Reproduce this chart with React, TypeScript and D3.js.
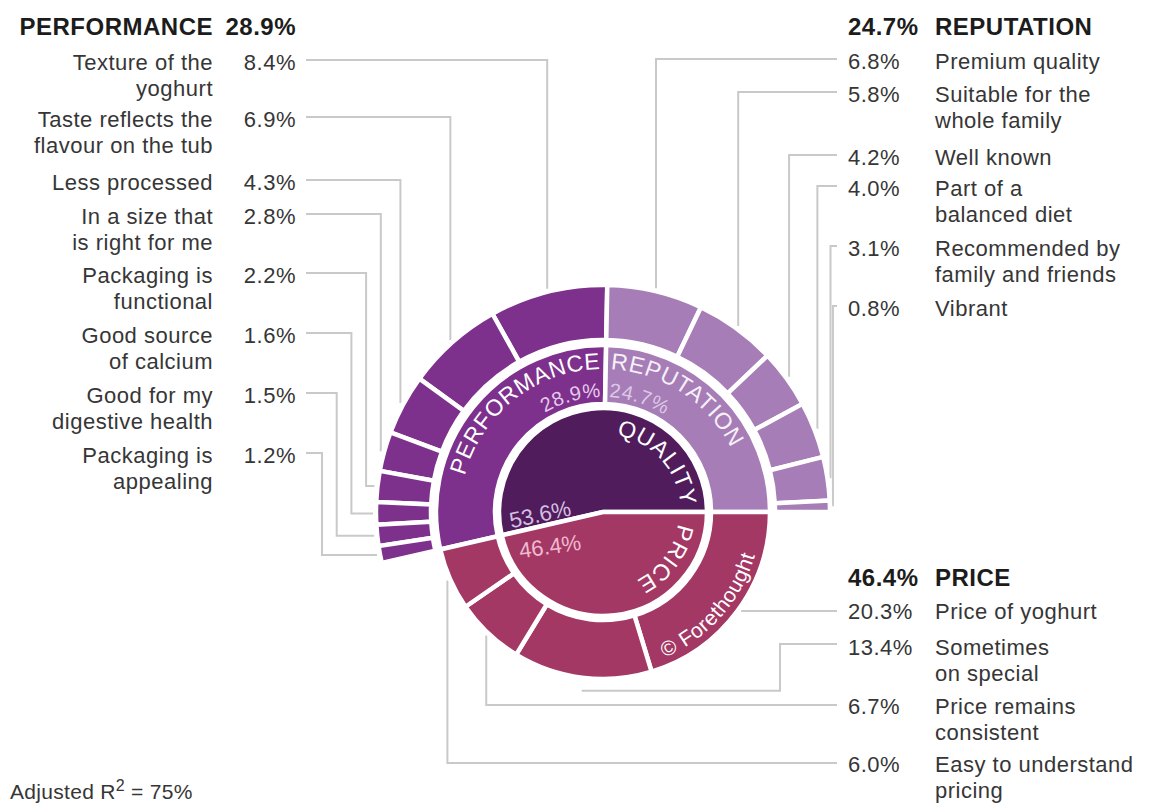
import * as d3 from 'd3';
import React from 'react';

// ---- data ----
const groupNames = ['QUALITY', 'PRICE'];
const groupValues = [53.6, 46.4];

const qualityNames = ['PERFORMANCE', 'REPUTATION'];
const qualityValues = [28.9, 24.7];

const performanceLabels = [
  'Texture of the\nyoghurt',
  'Taste reflects the\nflavour on the tub',
  'Less processed',
  'In a size that\nis right for me',
  'Packaging is\nfunctional',
  'Good source\nof calcium',
  'Good for my\ndigestive health',
  'Packaging is\nappealing',
];
const performanceValues = [8.4, 6.9, 4.3, 2.8, 2.2, 1.6, 1.5, 1.2];

const reputationLabels = [
  'Premium quality',
  'Suitable for the\nwhole family',
  'Well known',
  'Part of a\nbalanced diet',
  'Recommended by\nfamily and friends',
  'Vibrant',
];
const reputationValues = [6.8, 5.8, 4.2, 4.0, 3.1, 0.8];

const priceLabels = [
  'Price of yoghurt',
  'Sometimes\non special',
  'Price remains\nconsistent',
  'Easy to understand\npricing',
];
const priceValues = [20.3, 13.4, 6.7, 6.0];

const adjustedR2 = 75;

// ---- layout ----
const W = 1161;
const H = 806;
const CX = 603;
const CY = 512;
const R1 = 104;
const R2I = 108;
const R2O = 167;
const R3I = 172;
const R3O = 227;
const LINE = 26;

const leftY = [62, 119, 182, 216, 275, 335, 395, 455];
const rightY = [61, 94, 157, 188, 248, 308];
const priceY = [611, 647, 706, 764];
const priceRoute = ['direct', 'under', 'up', 'up'];

const COLORS = {
  quality: '#501c5c',
  performance: '#7d308c',
  reputation: '#a67db6',
  price: '#a33864',
  line: '#c9c9c9',
  text: '#363636',
  head: '#1c1c1c',
};

const FONT = '"Liberation Sans", Arial, Helvetica, sans-serif';
const deg = (d: number) => (d * Math.PI) / 180;
const pct = (v: number) => `${v.toFixed(1)}%`;
const pt = (a: number, r: number): [number, number] => [r * Math.sin(a), -r * Math.cos(a)];

const arcPath = (r: number, a0: number, a1: number, sweep: number) => {
  const [x0, y0] = pt(a0, r);
  const [x1, y1] = pt(a1, r);
  const large = Math.abs(a1 - a0) > Math.PI ? 1 : 0;
  return `M${x0},${y0}A${r},${r} 0 ${large} ${sweep} ${x1},${y1}`;
};

const Lines = ({
  x,
  y,
  text,
  anchor,
  size = 22,
  weight = 'normal',
  fill = COLORS.text,
}: {
  x: number;
  y: number;
  text: string;
  anchor: string;
  size?: number;
  weight?: string;
  fill?: string;
}) => (
  <text
    x={x}
    y={y}
    textAnchor={anchor}
    fontSize={size}
    fontWeight={weight}
    fill={fill}
    letterSpacing={0.5}
  >
    {text.split('\n').map((t, i) => (
      <tspan key={i} x={x} dy={i === 0 ? '0.36em' : LINE}>
        {t}
      </tspan>
    ))}
  </text>
);

const App = () => {
  const total = d3.sum(groupValues);
  const qStart = Math.PI / 2 - (2 * Math.PI * groupValues[0]) / total;

  const level1 = d3
    .pie<number>()
    .sort(null)
    .startAngle(qStart)
    .endAngle(qStart + 2 * Math.PI)(groupValues);

  const qualityArcs = d3
    .pie<number>()
    .sort(null)
    .startAngle(level1[0].startAngle)
    .endAngle(level1[0].endAngle)(qualityValues);

  const priceArcs = d3
    .pie<number>()
    .sort(null)
    .startAngle(level1[1].startAngle)
    .endAngle(level1[1].endAngle)(priceValues);

  // performance items run backwards from 12 o'clock
  const perfArcs = d3
    .pie<number>()
    .sort(null)
    .startAngle(qualityArcs[0].endAngle)
    .endAngle(qualityArcs[0].startAngle)(performanceValues);

  const repArcs = d3
    .pie<number>()
    .sort(null)
    .startAngle(qualityArcs[1].startAngle)
    .endAngle(qualityArcs[1].endAngle)(reputationValues);

  const arc1 = d3.arc<any>().innerRadius(0).outerRadius(R1);
  const arc2 = d3.arc<any>().innerRadius(R2I).outerRadius(R2O);
  const arc3 = d3.arc<any>().innerRadius(R3I).outerRadius(R3O);

  const mid = (d: { startAngle: number; endAngle: number }) => (d.startAngle + d.endAngle) / 2;

  // ---- leader lines ----
  const RL3 = R3O + 3;
  const RL2 = R2O + 3;
  const circleY = (x: number, r: number, sign: number) =>
    CY + sign * Math.sqrt(Math.max(0, r * r - (x - CX) * (x - CX)));

  const leftLeaders = perfArcs.map((d, i) => {
    const [px, py] = pt(mid(d), RL3);
    const mx = CX + px;
    const my = CY + py;
    const ly = leftY[i] - 2;
    if (i < 3) return `M306,${ly}H${mx}V${circleY(mx, RL3, -1)}`;
    const elbow = 322 + (performanceValues.length - 1 - i) * 14.7;
    return `M306,${ly}H${elbow}V${my}H${mx}`;
  });

  const rightLeaders = repArcs.map((d, i) => {
    const [px] = pt(mid(d), RL3);
    const mx = CX + px;
    const ly = rightY[i] - 2;
    return `M837,${ly}H${mx}V${circleY(mx, RL3, -1)}`;
  });

  const priceLeaders = priceArcs.map((d, i) => {
    const [px, py] = pt(mid(d), RL2);
    const mx = CX + px;
    const my = CY + py;
    const ly = priceY[i];
    if (priceRoute[i] === 'direct') {
      return `M837,${ly}H${CX + Math.sqrt(RL2 * RL2 - (ly - CY) * (ly - CY))}`;
    }
    if (priceRoute[i] === 'under') return `M837,${ly - 3}H780V${my + 10}H${mx}`;
    return `M837,${ly - 1}H${mx}V${circleY(mx, RL2, 1)}`;
  });

  const perfEnd = qualityArcs[0].endAngle;
  const repStart = qualityArcs[1].startAngle;

  return (
    <svg
      width={W}
      height={H}
      viewBox={`0 0 ${W} ${H}`}
      style={{ position: 'absolute', left: 0, top: 0, background: '#fff' }}
      fontFamily={FONT}
    >
      <g fill="none" stroke={COLORS.line} strokeWidth={2}>
        {[...leftLeaders, ...rightLeaders, ...priceLeaders].map((p, i) => (
          <path key={i} d={p} />
        ))}
      </g>

      <g transform={`translate(${CX},${CY})`} stroke="#fff" strokeWidth={4.5}>
        {level1.map((d, i) => (
          <path key={`l1${i}`} d={arc1(d)} fill={i === 0 ? COLORS.quality : COLORS.price} />
        ))}
        {qualityArcs.map((d, i) => (
          <path
            key={`q${i}`}
            d={arc2(d)}
            fill={i === 0 ? COLORS.performance : COLORS.reputation}
          />
        ))}
        {priceArcs.map((d, i) => (
          <path key={`p${i}`} d={arc2(d)} fill={COLORS.price} />
        ))}
        {perfArcs.map((d, i) => (
          <path key={`pf${i}`} d={arc3(d)} fill={COLORS.performance} />
        ))}
        {repArcs.map((d, i) => (
          <path key={`rp${i}`} d={arc3(d)} fill={COLORS.reputation} />
        ))}
      </g>

      <g transform={`translate(${CX},${CY})`}>
        <defs>
          <path id="pPerf" d={arcPath(143, perfEnd - deg(110), perfEnd - deg(2), 1)} />
          <path id="pPerfV" d={arcPath(115, perfEnd - deg(100), perfEnd - deg(2), 1)} />
          <path id="pRep" d={arcPath(143, repStart + deg(2), repStart + deg(110), 1)} />
          <path id="pRepV" d={arcPath(115, repStart + deg(2), repStart + deg(80), 1)} />
          <path id="pQual" d={arcPath(78, deg(10), deg(110), 1)} />
          <path id="pPrice" d={arcPath(76, deg(99), deg(190), 1)} />
          <path id="pCopy" d={arcPath(158, deg(157), deg(60), 0)} />
        </defs>
        <text fontSize={23} fill="#fff" letterSpacing={0.6}>
          <textPath href="#pPerf" startOffset="100%" textAnchor="end">
            {qualityNames[0]}
          </textPath>
        </text>
        <text fontSize={20} fill="#e4c9ea" letterSpacing={0.5}>
          <textPath href="#pPerfV" startOffset="100%" textAnchor="end">
            {pct(qualityValues[0])}
          </textPath>
        </text>
        <text fontSize={23} fill="#f6f0f8" letterSpacing={0.6}>
          <textPath href="#pRep">{qualityNames[1]}</textPath>
        </text>
        <text fontSize={20} fill="#ddc8e6" letterSpacing={0.5}>
          <textPath href="#pRepV">{pct(qualityValues[1])}</textPath>
        </text>
        <text fontSize={23} fill="#fff" letterSpacing={0.6}>
          <textPath href="#pQual">{groupNames[0]}</textPath>
        </text>
        <text fontSize={23} fill="#fff" letterSpacing={0.6}>
          <textPath href="#pPrice">{groupNames[1]}</textPath>
        </text>
        <text fontSize={21} fill="#fff" letterSpacing={0.5}>
          <textPath href="#pCopy">© Forethought</textPath>
        </text>
        <text
          x={-63}
          y={2}
          dy="0.36em"
          textAnchor="middle"
          fontSize={22}
          fill="#d4bfe0"
          transform="rotate(-12 -63 2)"
        >
          {pct(groupValues[0])}
        </text>
        <text
          x={-53}
          y={34}
          dy="0.36em"
          textAnchor="middle"
          fontSize={22}
          fill="#f1b9cf"
          transform="rotate(-8 -53 34)"
        >
          {pct(groupValues[1])}
        </text>
      </g>

      {/* left: performance */}
      <Lines x={213} y={26} text={qualityNames[0]} anchor="end" size={24} weight="bold" fill={COLORS.head} />
      <Lines x={296} y={26} text={pct(qualityValues[0])} anchor="end" size={24} weight="bold" fill={COLORS.head} />
      {performanceLabels.map((l, i) => (
        <g key={`pl${i}`}>
          <Lines x={213} y={leftY[i]} text={l} anchor="end" />
          <Lines x={296} y={leftY[i]} text={pct(performanceValues[i])} anchor="end" />
        </g>
      ))}

      {/* right: reputation */}
      <Lines x={848} y={26} text={pct(qualityValues[1])} anchor="start" size={24} weight="bold" fill={COLORS.head} />
      <Lines x={935} y={26} text={qualityNames[1]} anchor="start" size={24} weight="bold" fill={COLORS.head} />
      {reputationLabels.map((l, i) => (
        <g key={`rl${i}`}>
          <Lines x={848} y={rightY[i]} text={pct(reputationValues[i])} anchor="start" />
          <Lines x={935} y={rightY[i]} text={l} anchor="start" />
        </g>
      ))}

      {/* right: price */}
      <Lines x={848} y={577} text={pct(groupValues[1])} anchor="start" size={24} weight="bold" fill={COLORS.head} />
      <Lines x={935} y={577} text={groupNames[1]} anchor="start" size={24} weight="bold" fill={COLORS.head} />
      {priceLabels.map((l, i) => (
        <g key={`prl${i}`}>
          <Lines x={848} y={priceY[i]} text={pct(priceValues[i])} anchor="start" />
          <Lines x={935} y={priceY[i]} text={l} anchor="start" />
        </g>
      ))}

      <text x={10} y={799} fontSize={21} fill={COLORS.text} letterSpacing={0.3}>
        <tspan>Adjusted R</tspan>
        <tspan dy={-8} fontSize={16}>
          2
        </tspan>
        <tspan dy={8}>{` = ${adjustedR2}%`}</tspan>
      </text>
    </svg>
  );
};

export default App;
